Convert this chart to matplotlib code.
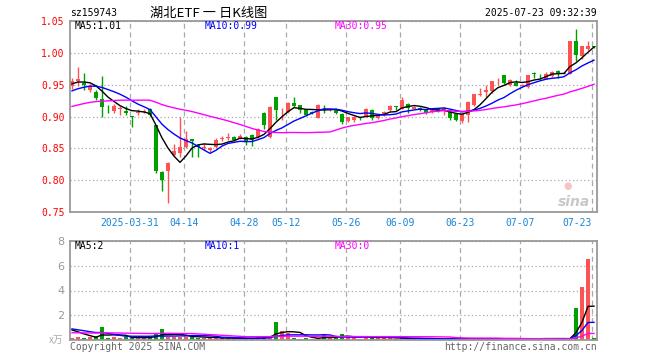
import numpy as np
import pandas as pd
import matplotlib
matplotlib.use('Agg')
import matplotlib.pyplot as plt

# trading days shown (weekdays minus exchange holidays)
holidays = ['2025-04-04', '2025-05-01', '2025-05-02', '2025-05-05', '2025-06-02']
days = pd.bdate_range('2025-03-17', '2025-07-23')
days = days[~days.isin(pd.to_datetime(holidays))]

tick_days = ['2025-03-31', '2025-04-14', '2025-04-28', '2025-05-12', '2025-05-26',
             '2025-06-09', '2025-06-23', '2025-07-07', '2025-07-23']
tick_labels = ['2025-03-31', '04-14', '04-28', '05-12', '05-26',
               '06-09', '06-23', '07-07', '07-23']

open_ = [0.947, 0.956, 0.952, 0.942, 0.939, 0.928, 0.912, 0.908, 0.911, 0.908,
         0.900, 0.905, 0.907, 0.912, 0.886, 0.813, 0.814, 0.840, 0.843, 0.853,
         0.864, 0.856, 0.851, 0.847, 0.853, 0.865, 0.866, 0.868, 0.865, 0.868,
         0.871, 0.868, 0.906, 0.868, 0.931, 0.905, 0.907, 0.921, 0.918, 0.911,
         0.907, 0.898, 0.917, 0.911, 0.9125, 0.904, 0.893, 0.894, 0.899, 0.8995,
         0.910, 0.897, 0.902, 0.910, 0.916, 0.912, 0.920, 0.912, 0.914, 0.910,
         0.907, 0.911, 0.910, 0.910, 0.9035, 0.893, 0.902, 0.918, 0.933, 0.939,
         0.940, 0.958, 0.9645, 0.949, 0.953, 0.947, 0.946, 0.968, 0.9655, 0.959,
         0.963, 0.972, 0.967, 0.967, 1.018, 0.994, 1.005, 1.010]
high = [0.960, 0.977, 0.968, 0.951, 0.942, 0.963, 0.918, 0.920, 0.916, 0.917,
        0.901, 0.911, 0.911, 0.913, 0.887, 0.814, 0.828, 0.857, 0.899, 0.877,
        0.865, 0.857, 0.858, 0.853, 0.866, 0.870, 0.874, 0.869, 0.873, 0.869,
        0.872, 0.882, 0.907, 0.917, 0.931, 0.913, 0.923, 0.930, 0.918, 0.912,
        0.908, 0.919, 0.918, 0.913, 0.913, 0.905, 0.900, 0.901, 0.900, 0.913,
        0.911, 0.904, 0.908, 0.918, 0.917, 0.931, 0.921, 0.916, 0.915, 0.911,
        0.912, 0.912, 0.915, 0.911, 0.904, 0.905, 0.924, 0.936, 0.945, 0.949,
        0.956, 0.961, 0.965, 0.958, 0.957, 0.951, 0.965, 0.970, 0.966, 0.969,
        0.971, 0.973, 0.969, 1.018, 1.037, 1.011, 1.018, 1.010]
low = [0.943, 0.948, 0.942, 0.939, 0.926, 0.899, 0.905, 0.906, 0.903, 0.903,
       0.883, 0.902, 0.906, 0.901, 0.812, 0.784, 0.764, 0.838, 0.836, 0.850,
       0.837, 0.837, 0.847, 0.845, 0.851, 0.862, 0.863, 0.862, 0.864, 0.855,
       0.854, 0.867, 0.880, 0.866, 0.895, 0.894, 0.905, 0.915, 0.906, 0.901,
       0.904, 0.897, 0.905, 0.909, 0.904, 0.889, 0.892, 0.892, 0.894, 0.899,
       0.895, 0.896, 0.901, 0.909, 0.910, 0.911, 0.905, 0.911, 0.909, 0.904,
       0.906, 0.907, 0.902, 0.895, 0.893, 0.890, 0.891, 0.917, 0.932, 0.931,
       0.937, 0.949, 0.951, 0.948, 0.947, 0.946, 0.945, 0.961, 0.958, 0.958,
       0.962, 0.961, 0.966, 0.966, 0.987, 0.990, 1.004, 1.008]
close = [0.956, 0.958, 0.950, 0.947, 0.929, 0.915, 0.911, 0.916, 0.914, 0.906,
         0.899, 0.907, 0.909, 0.902, 0.815, 0.800, 0.827, 0.846, 0.853, 0.865,
         0.862, 0.852, 0.853, 0.850, 0.863, 0.866, 0.868, 0.863, 0.870, 0.860,
         0.863, 0.881, 0.886, 0.915, 0.910, 0.906, 0.921, 0.917, 0.910, 0.902,
         0.905, 0.918, 0.916, 0.912, 0.905, 0.892, 0.899, 0.900, 0.897, 0.912,
         0.897, 0.903, 0.907, 0.916, 0.915, 0.926, 0.914, 0.915, 0.910, 0.905,
         0.911, 0.9085, 0.914, 0.897, 0.894, 0.9045, 0.923, 0.935, 0.935, 0.942,
         0.955, 0.959, 0.9525, 0.957, 0.948, 0.950, 0.9645, 0.966, 0.9645, 0.967,
         0.970, 0.968, 0.968, 1.018, 0.996, 1.010, 1.011, 1.009]
# volume, 万
vol = [0.16, 0.25, 0.22, 0.25, 0.35, 1.07, 0.22, 0.30, 0.18, 0.25,
       0.18, 0.22, 0.20, 0.28, 0.60, 0.92, 0.30, 0.30, 0.30, 0.25,
       0.38, 0.20, 0.18, 0.15, 0.25, 0.15, 0.18, 0.12, 0.15, 0.12,
       0.20, 0.25, 0.30, 0.35, 1.47, 0.75, 0.60, 0.22, 0.12, 0.15,
       0.12, 0.20, 0.48, 0.18, 0.20, 0.50, 0.30, 0.25, 0.12, 0.30,
       0.15, 0.35, 0.20, 0.15, 0.12, 0.15, 0.10, 0.12, 0.08, 0.10,
       0.12, 0.08, 0.10, 0.12, 0.10, 0.12, 0.15, 0.10, 0.12, 0.10,
       0.12, 0.10, 0.08, 0.10, 0.12, 0.10, 0.12, 0.10, 0.19, 0.19,
       0.10, 0.12, 0.10, 0.15, 2.60, 4.27, 6.50, 0.19]

# closes / volumes before 03-17, only used to seed the moving averages
pre_close = [0.885, 0.888, 0.890, 0.893, 0.895, 0.897, 0.899, 0.900, 0.902, 0.903,
             0.905, 0.906, 0.908, 0.909, 0.911, 0.912, 0.914, 0.916, 0.918, 0.920,
             0.924, 0.927, 0.929, 0.931, 0.934, 0.944, 0.950, 0.953, 0.953]
pre_vol = [0.45, 0.40, 0.50, 0.45, 0.40, 0.50, 0.45, 0.45, 0.50, 0.40,
           0.45, 0.50, 0.45, 0.40, 0.50, 0.45, 0.45, 0.50, 0.40, 0.45,
           1.00, 0.95, 1.05, 1.00, 1.00, 1.00, 1.05, 0.95, 1.00]

RED = '#ff5252'
GREEN = '#00a000'
GRID = '#aaaaaa'
MONO = 'DejaVu Sans Mono'

n = len(close)
x = np.arange(n)
o = np.array(open_); c = np.array(close)
up = c >= o
cols = np.where(up, RED, GREEN)
day_str = [d.strftime('%Y-%m-%d') for d in days]
tick_pos = [day_str.index(d) for d in tick_days]

def ma(pre, vals, k):
    s = pd.Series(list(pre) + list(vals)).rolling(k).mean().values
    return s[len(pre):]

W, H = 660, 360
fig = plt.figure(figsize=(6.6, 3.6), dpi=100)
ax = fig.add_axes([70 / W, 1 - 212.3 / H, 527 / W, 191.6 / H])
axv = fig.add_axes([70 / W, 1 - 340.3 / H, 527 / W, 99.6 / H])

# price panel
ax.vlines(x, low, high, colors=cols, lw=1)
ax.bar(x, np.maximum(np.abs(c - o), 0.0012), bottom=np.minimum(o, c),
       width=0.72, color=cols, linewidth=0)
ax.plot(x, ma(pre_close, close, 5), color='black', lw=1)
ax.plot(x, ma(pre_close, close, 10), color='#0000ff', lw=1)
ax.plot(x, ma(pre_close, close, 30), color='#ff00ff', lw=1)
ax.set_ylim(0.75, 1.05)
ax.set_yticks(np.arange(0.75, 1.051, 0.05))
ax.set_yticklabels(['%.2f' % v for v in np.arange(0.75, 1.051, 0.05)],
                   color='#ff0000', fontsize=7, family=MONO)
ax.set_xticks([p - 0.33 for p in tick_pos])
ax.set_xticklabels(tick_labels, color='#1a85d6', fontsize=7, family=MONO)
ax.get_xticklabels()[-1].set_ha('right')
ax.get_xticklabels()[-1].set_x(tick_pos[-1])

# volume panel
axv.bar(x, vol, width=0.75, color=cols, linewidth=0)
axv.plot(x, ma(pre_vol, vol, 5), color='black', lw=1)
axv.plot(x, ma(pre_vol, vol, 10), color='#0000ff', lw=1)
axv.plot(x, ma(pre_vol, vol, 30), color='#ff00ff', lw=1)
axv.set_ylim(0, 8)
axv.set_yticks([2, 4, 6, 8])
axv.set_yticklabels(['2', '4', '6', '8'], color='#999999', fontsize=8)
axv.set_xticks([p - 0.33 for p in tick_pos])
axv.set_xticklabels([])

for a in (ax, axv):
    a.set_xlim(-0.33, n - 0.5)
    a.tick_params(length=0, pad=4)
    a.grid(axis='y', color=GRID, linestyle=(0, (1, 2)), lw=0.9)
    a.grid(axis='x', color=GRID, linestyle=(0, (4, 3)), lw=0.9)
    a.set_axisbelow(True)
    for s in a.spines.values():
        s.set_color('#999999')
        s.set_linewidth(1.3)

def ftext(px, py, s, **kw):
    kw.setdefault('family', MONO)
    kw.setdefault('fontsize', 7)
    kw.setdefault('va', 'center')
    fig.text(px / W, 1 - py / H, s, **kw)

ftext(70, 13, 'sz159743')
ftext(150, 13, '湖北ETF 一 日K线图', fontsize=9.5,
      family=['Noto Sans CJK SC', 'DejaVu Sans Mono'])
ftext(597, 13, '2025-07-23 09:32:39', ha='right')
ftext(75, 26, 'MA5:1.01', color='black')
ftext(205, 26, 'MA10:0.99', color='#0000ff')
ftext(335, 26, 'MA30:0.95', color='#ff00ff')
ftext(75, 246, 'MA5:2', color='black')
ftext(205, 246, 'MA10:1', color='#0000ff')
ftext(335, 246, 'MA30:0', color='#ff00ff')
ftext(63, 340, 'x万', ha='right', color='#aaaaaa', fontsize=7, style='italic',
      family=['Noto Sans CJK SC', 'DejaVu Sans'])
ftext(70, 347, 'Copyright 2025 SINA.COM', color='#666666')
ftext(597, 347, 'http://finance.sina.com.cn', ha='right', color='#666666')
# watermark
ftext(568, 186, '●', ha='center', color='#f7c4c4', fontsize=7, family='DejaVu Sans')
ftext(574, 202, 'sina', ha='center', color='#c8c8c8', fontsize=10,
      style='italic', weight='bold', family='DejaVu Sans')

fig.savefig('out.png', dpi=100)
